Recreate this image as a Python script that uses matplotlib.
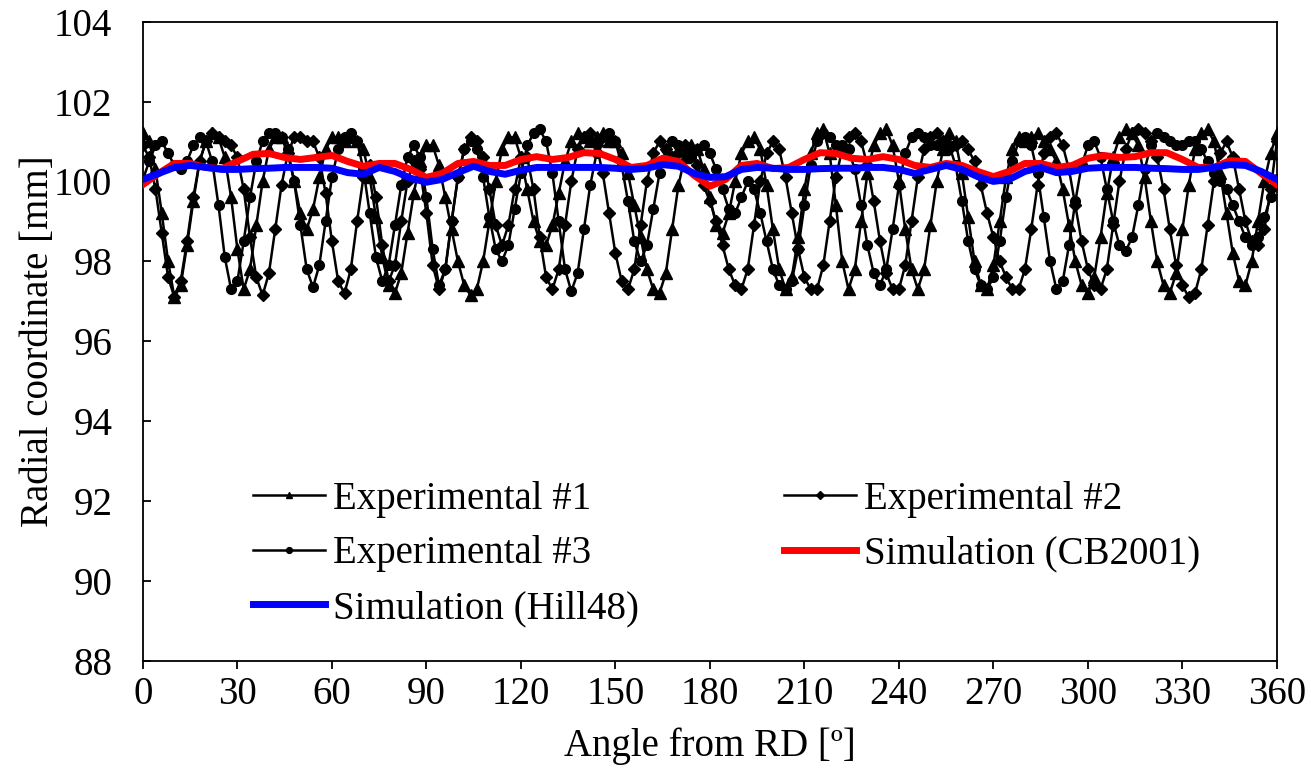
import numpy as np
import matplotlib
matplotlib.use("Agg")
import matplotlib.pyplot as plt

plt.rcParams['font.family'] = ['Liberation Serif', 'DejaVu Serif']

# measured earing profiles, every 2 degrees
angle_exp = np.arange(0, 361, 2)

exp1 = [101.2, 101.0, 100.3, 99.2, 98.0, 97.1, 97.4, 98.4, 99.5, 100.5,
        101.0, 101.2, 101.1, 100.6, 99.6, 98.3, 97.3, 97.8, 98.9, 100.0,
        100.8, 101.1, 101.1, 100.7, 100.0, 99.2, 98.8, 99.3, 100.1, 100.8,
        101.1, 101.1, 101.0, 101.1, 101.0, 100.8, 100.1, 99.1, 98.1, 97.4,
        97.2, 97.7, 98.7, 99.7, 100.5, 100.9, 100.9, 100.4, 99.6, 98.8,
        98.0, 97.4, 97.15, 97.3, 98.0, 99.0, 100.0, 100.8, 101.1, 101.1,
        100.6, 99.8, 99.0, 98.5, 98.4, 98.9, 99.7, 100.5, 101.0, 101.2,
        101.1, 101.0, 101.1, 101.2, 101.0, 101.0, 100.7, 100.2, 99.4, 98.6,
        97.8, 97.3, 97.2, 97.7, 98.8, 99.9, 100.6, 100.9, 100.8, 100.3,
        99.6, 98.9, 98.7, 99.2, 100.0, 100.7, 101.0, 101.1, 100.8, 99.9,
        98.8, 97.8, 97.3, 97.6, 98.6, 99.8, 100.7, 101.2, 101.3, 100.7,
        99.4, 98.0, 97.3, 97.8, 99.0, 100.2, 100.9, 101.2, 101.3, 100.9,
        100.0, 98.8, 97.8, 97.3, 97.8, 98.9, 100.0, 100.8, 101.2, 101.0,
        100.2, 99.1, 98.0, 97.4, 97.3, 97.9, 99.0, 100.1, 100.8, 101.1,
        101.0, 101.1, 101.2, 101.0, 100.8, 100.5, 99.8, 98.9, 98.0, 97.4,
        97.2, 97.6, 98.6, 99.7, 100.6, 101.1, 101.3, 101.2, 100.9, 100.1,
        99.0, 98.0, 97.4, 97.2, 97.7, 98.8, 99.9, 100.8, 101.2, 101.3,
        101.0, 100.2, 99.2, 98.2, 97.5, 97.4, 98.0, 99.0, 100.0, 100.7,
        101.2]

exp2 = [100.9, 100.6, 99.8, 98.7, 97.6, 97.1, 97.5, 98.5, 99.6, 100.5,
        101.0, 101.2, 101.1, 101.0, 100.9, 100.6, 99.8, 98.6, 97.6, 97.15,
        97.7, 98.8, 99.9, 100.7, 101.1, 101.1, 101.0, 101.0, 100.6, 99.7,
        98.5, 97.5, 97.2, 97.8, 99.0, 100.1, 100.4, 99.6, 98.4, 97.5,
        97.9, 99.0, 100.0, 100.5, 100.3, 99.2, 97.9, 97.3, 97.8, 99.0,
        100.1, 100.8, 101.1, 101.0, 100.6, 99.8, 98.9, 98.4, 98.9, 99.8,
        100.6, 100.6, 99.8, 98.6, 97.6, 97.3, 97.8, 98.9, 100.0, 100.8,
        101.1, 101.2, 100.9, 100.2, 99.2, 98.2, 97.5, 97.3, 97.8, 98.9,
        100.0, 100.7, 101.0, 100.8, 100.6, 100.7, 100.9, 100.8, 100.4, 99.9,
        99.5, 99.0, 98.4, 97.8, 97.4, 97.3, 97.8, 98.9, 100.0, 100.7,
        101.0, 100.8, 100.1, 99.2, 98.3, 97.6, 97.3, 97.3, 97.9, 99.0,
        100.1, 100.8, 101.1, 101.2, 101.0, 100.4, 99.5, 98.5, 97.7, 97.3,
        97.3, 97.9, 99.0, 100.1, 100.8, 101.1, 101.2, 101.0, 100.8, 100.9,
        101.0, 100.8, 100.5, 99.9, 99.2, 98.6, 98.0, 97.6, 97.3, 97.3,
        97.8, 98.8, 99.9, 100.7, 101.1, 101.2, 100.9, 100.3, 99.4, 98.5,
        97.8, 97.4, 97.3, 97.8, 98.9, 100.0, 100.8, 101.2, 101.3, 101.2,
        101.0, 100.6, 99.8, 98.8, 97.9, 97.4, 97.1, 97.2, 97.8, 98.9,
        100.0, 100.7, 101.0, 100.6, 99.8, 99.0, 98.5, 98.4, 98.8, 99.8,
        101.0]

exp3 = [100.05, 100.5, 100.9, 101.0, 100.7, 100.4, 100.3, 100.5, 100.9, 101.1,
        101.0, 100.5, 99.4, 98.1, 97.3, 97.5, 98.5, 99.6, 100.5, 101.0,
        101.2, 101.2, 101.1, 100.8, 100.0, 98.9, 97.8, 97.35, 97.9, 99.0,
        100.1, 100.8, 101.1, 101.2, 101.0, 100.3, 99.2, 98.1, 97.5, 97.9,
        98.9, 99.9, 100.6, 100.9, 100.6, 99.6, 98.3, 97.4, 97.8, 99.0,
        100.1, 100.8, 101.0, 100.8, 100.1, 99.1, 98.3, 98.0, 98.4, 99.3,
        100.2, 100.9, 101.2, 101.3, 101.0, 100.2, 99.0, 97.8, 97.25, 97.7,
        98.8, 99.9, 100.7, 101.1, 101.2, 101.0, 100.4, 99.5, 98.5, 98.0,
        98.4, 99.3, 100.2, 100.8, 101.0, 100.9, 100.7, 100.6, 100.8, 100.9,
        100.7, 100.3, 99.8, 99.3, 99.2, 99.6, 100.0, 99.8, 99.2, 98.5,
        97.8, 97.4, 97.3, 97.5, 98.3, 99.4, 100.4, 101.0, 101.2, 101.1,
        100.9, 100.9, 100.8, 100.3, 99.4, 98.4, 97.7, 97.4, 97.8, 98.8,
        99.9, 100.7, 101.1, 101.2, 101.1, 100.9, 100.9, 101.0, 100.9, 100.4,
        99.5, 98.5, 97.8, 97.4, 97.3, 97.6, 98.5, 99.6, 100.5, 101.0,
        101.1, 100.9, 100.2, 99.1, 98.0, 97.3, 97.5, 98.4, 99.5, 100.4,
        100.9, 101.0, 100.6, 99.8, 99.0, 98.4, 98.25, 98.6, 99.4, 100.3,
        100.9, 101.2, 101.1, 101.0, 100.9, 100.9, 101.0, 101.0, 100.8, 100.5,
        100.2, 100.0, 99.8, 99.4, 99.0, 98.6, 98.4, 98.6, 99.1, 99.6,
        100.05]

# simulated profiles, every 5 degrees
angle_sim = np.arange(0, 361, 5)

cb2001 = [99.92, 100.2, 100.45, 100.45, 100.35, 100.32, 100.5, 100.68, 100.7, 100.6,
          100.55, 100.6, 100.65, 100.5, 100.38, 100.45, 100.45, 100.3, 100.1, 100.2,
          100.45, 100.5, 100.4, 100.4, 100.55, 100.62, 100.55, 100.6, 100.72, 100.7,
          100.55, 100.35, 100.4, 100.58, 100.5, 100.15, 99.88, 100.05, 100.4, 100.45,
          100.32, 100.35, 100.55, 100.72, 100.7, 100.58, 100.55, 100.62, 100.55, 100.4,
          100.35, 100.45, 100.4, 100.25, 100.12, 100.25, 100.45, 100.45, 100.35, 100.4,
          100.58, 100.65, 100.6, 100.62, 100.72, 100.72, 100.55, 100.35, 100.35, 100.52,
          100.5, 100.2, 99.92]

hill48 = [100.05, 100.2, 100.35, 100.4, 100.35, 100.3, 100.3, 100.32, 100.33, 100.35,
          100.35, 100.35, 100.33, 100.22, 100.18, 100.35, 100.25, 100.08, 99.98, 100.05,
          100.22, 100.38, 100.25, 100.18, 100.28, 100.35, 100.35, 100.35, 100.35, 100.35,
          100.33, 100.3, 100.33, 100.42, 100.38, 100.2, 100.1, 100.12, 100.3, 100.35,
          100.33, 100.3, 100.3, 100.32, 100.33, 100.33, 100.35, 100.35, 100.3, 100.2,
          100.3, 100.4, 100.3, 100.12, 100.0, 100.05, 100.25, 100.35, 100.22, 100.25,
          100.33, 100.35, 100.35, 100.35, 100.33, 100.32, 100.3, 100.3, 100.35, 100.42,
          100.4, 100.25, 100.05]

fig = plt.figure(figsize=(13.11, 7.72), dpi=100)
ax = fig.add_axes([0.109, 0.144, 0.865, 0.828])

l1, = ax.plot(angle_exp, exp1, color='black', lw=1.8, marker='^', ms=8, label='Experimental #1')
l2, = ax.plot(angle_exp, exp2, color='black', lw=1.8, marker='D', ms=6.5, label='Experimental #2')
l3, = ax.plot(angle_exp, exp3, color='black', lw=1.8, marker='o', ms=7, label='Experimental #3')
l4, = ax.plot(angle_sim, cb2001, color='#ff0000', lw=5, label='Simulation (CB2001)', zorder=3)
l5, = ax.plot(angle_sim, hill48, color='#0000ff', lw=5, label='Simulation (Hill48)', zorder=4)

ax.set_xlim(0, 360)
ax.set_ylim(88, 104)
ax.set_xticks(np.arange(0, 361, 30))
ax.set_yticks(np.arange(88, 105, 2))
ax.tick_params(axis='both', labelsize=28, width=1.3, length=6)
ax.tick_params(axis='y', direction='in', pad=22)
ax.tick_params(axis='x', direction='out', pad=5)
for s in ax.spines.values():
    s.set_linewidth(1.3)

ax.set_xlabel('Angle from RD [º]', fontsize=28, labelpad=10)
ax.set_ylabel('Radial coordinate [mm]', fontsize=28, labelpad=-2)

leg = ax.legend(handles=[l1, l3, l5, l2, l4], ncol=2, loc='lower left',
                bbox_to_anchor=(0.097, 0.053), frameon=False, fontsize=28,
                handlelength=1.85, handletextpad=0.2, columnspacing=3.75,
                labelspacing=0.45, markerscale=0.6, borderpad=0,
                borderaxespad=0)

fig.savefig('out.png', dpi=100)
